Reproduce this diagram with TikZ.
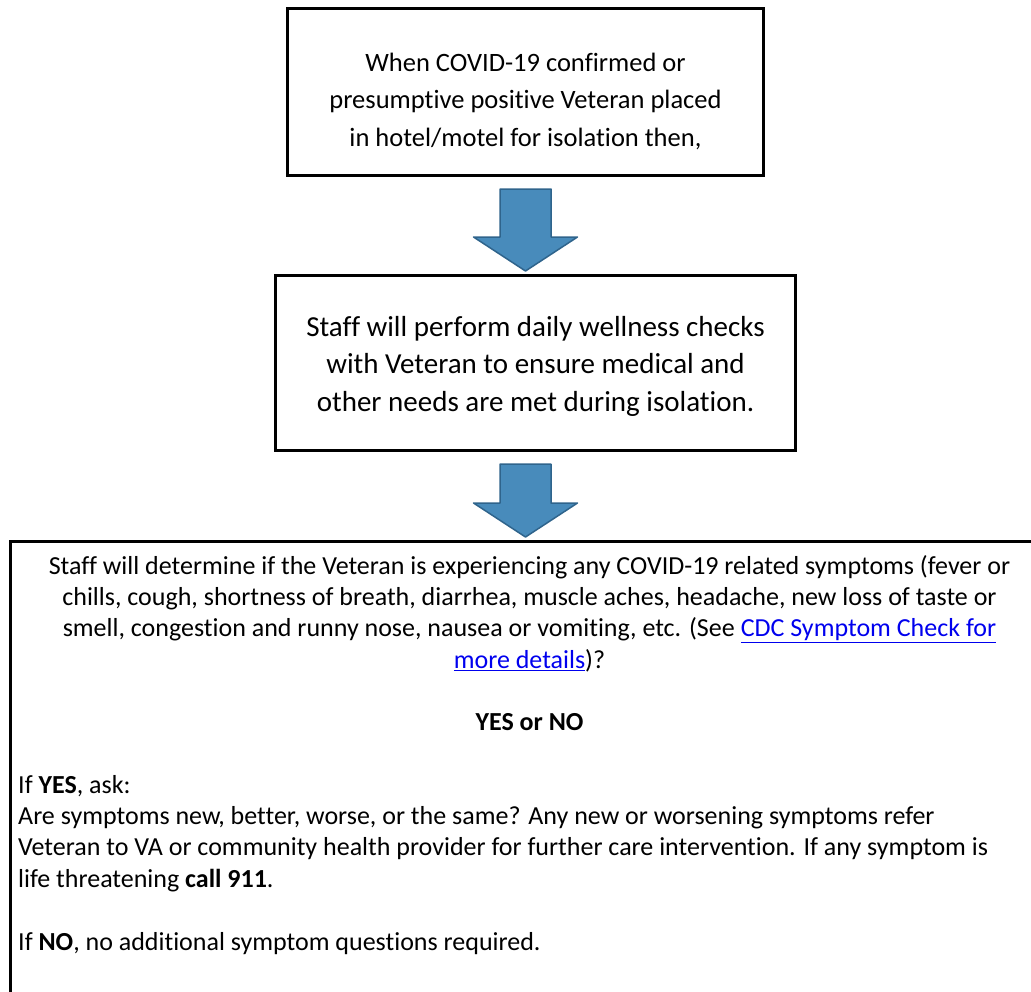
\documentclass[tikz,border=0pt]{standalone}
\usepackage{fontspec}
\setmainfont{Carlito}[Ligatures=NoCommon]
\usetikzlibrary{calc,positioning}
\definecolor{arrowfill}{RGB}{72,139,187}
\definecolor{arrowline}{RGB}{47,100,140}
\definecolor{linkblue}{RGB}{0,0,238}
\newcommand{\weblink}[1]{\textcolor{linkblue}{\underline{#1}}}
% block arrow from the foot of one box to the head of the next, on the spine
\newcommand{\flowarrow}[2]{%
 \draw[downarrow] let \p1=(#1.south), \p2=(#2.north), \p3=(spine) in
  (\x3-25.5pt,\y1-12pt) -- (\x3+25.5pt,\y1-12pt) -- (\x3+25.5pt,\y2+37pt)
  -- (\x3+52pt,\y2+37pt) -- (\x3,\y2+3pt) -- (\x3-52pt,\y2+37pt)
  -- (\x3-25.5pt,\y2+37pt) -- cycle;}

\begin{document}
\begin{tikzpicture}[x=1pt,y=1pt]
\tikzstyle{stepbox}=[draw=black, line width=3pt, inner sep=0pt]
\tikzstyle{boxtext}=[align=center, inner sep=0pt]
\tikzstyle{checktext}=[inner sep=0pt, font=\fontsize{26}{31.3}\selectfont]
\tikzstyle{downarrow}=[fill=arrowfill, draw=arrowline, line width=1.5pt, line join=round]
\useasboundingbox (0,0) rectangle (1031,-991);
\clip (0,0) rectangle (1031,-991);
 %boxes
\node[stepbox, minimum width=476, minimum height=167, anchor=north west] at (286,-7) (placed) {};
\node[boxtext, font=\fontsize{26.5}{37.5}\selectfont] at ($(placed.center)+(0,-9)$) (placedtext) {When COVID-19 confirmed or\\presumptive positive Veteran placed\\in hotel/motel for isolation then,};
\node[stepbox, minimum width=520, minimum height=175, anchor=north west] at (274,-274) (checks) {};
\node[boxtext, font=\fontsize{29}{37.5}\selectfont] at ($(checks.center)+(0,-3)$) (checkstext) {Staff will perform daily wellness checks\\with Veteran to ensure medical and\\other needs are met during isolation.};
\node[stepbox, minimum width=1060, minimum height=480, anchor=north west] at (9,-540) (symptoms) {};
\coordinate (spine) at (placed.south);
 %texts in the symptom box
\node[checktext, align=center, anchor=north] at (529.5,-555) (question) {Staff will determine if the Veteran is experiencing any COVID-19 related symptoms (fever or\\chills, cough, shortness of breath, diarrhea, muscle aches, headache, new loss of taste or\\smell, congestion and runny nose, nausea or vomiting, etc. (See \weblink{CDC Symptom Check for}\\\weblink{more details})?};
\node[checktext, anchor=north] at (529.5,-713) (yesno) {\textbf{YES or NO}};
\node[checktext, align=left, anchor=north west] at (18,-775) (ifyes) {If \textbf{YES}, ask:\\Are symptoms new, better, worse, or the same? Any new or worsening symptoms refer\\Veteran to VA or community health provider for further care intervention. If any symptom is\\life threatening \textbf{call 911}.};
\node[checktext, anchor=north west] at (18,-932) (ifno) {If \textbf{NO}, no additional symptom questions required.};
 %arrows
\flowarrow{placed}{checks}
\flowarrow{checks}{symptoms}
\end{tikzpicture}
\end{document}
